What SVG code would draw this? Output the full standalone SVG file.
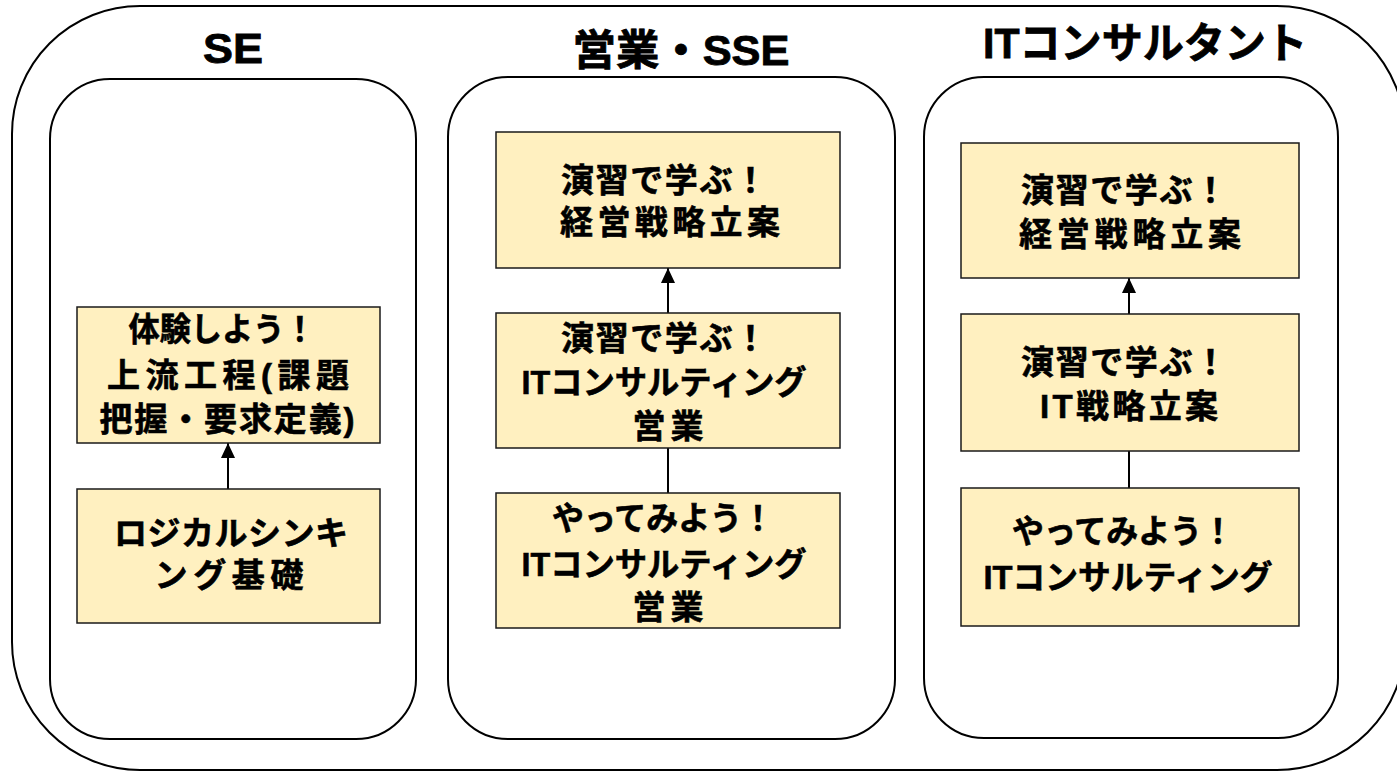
<svg xmlns="http://www.w3.org/2000/svg" width="1397" height="772" viewBox="0 0 1397 772">
<style>
.outer{fill:#fff;stroke:#000;stroke-width:2}
.panel{fill:#fff;stroke:#000;stroke-width:2}
.box{fill:#FFF0C0;stroke:#1a1a1a;stroke-width:1.5}
.title{font-family:"Liberation Sans","Noto Sans CJK JP",sans-serif;font-weight:bold;font-size:42px;fill:#000;stroke:#000;stroke-width:0.8;text-anchor:middle}
.t{font-family:"Liberation Sans","Noto Sans CJK JP",sans-serif;font-weight:bold;font-size:33px;fill:#000;stroke:#000;stroke-width:0.6;text-anchor:middle}
.conn{stroke:#000;stroke-width:2;fill:none}
</style>
<defs>
<marker id="ah" markerWidth="14" markerHeight="15" refX="7" refY="0" orient="0" markerUnits="userSpaceOnUse" viewBox="0 0 14 15">
<path d="M0,15 L7,0 L14,15 Z" fill="#000"/>
</marker>
</defs>
<rect class="outer" x="12" y="6" width="1393" height="764" rx="128" ry="128"/>

<g id="panel-se">
<rect class="panel" x="50" y="79" width="366" height="660" rx="60" ry="60"/>
<text class="title" x="233" y="63" textLength="60" lengthAdjust="spacingAndGlyphs">SE</text>
</g>
<g id="panel-sales">
<rect class="panel" x="448" y="77" width="447" height="662" rx="60" ry="60"/>
<text class="title" x="681" y="65" textLength="217" lengthAdjust="spacingAndGlyphs">営業・SSE</text>
</g>
<g id="panel-itc">
<rect class="panel" x="924" y="77" width="414" height="661" rx="60" ry="60"/>
<text class="title" x="1145" y="58" textLength="324" lengthAdjust="spacingAndGlyphs">ITコンサルタント</text>
</g>

<g id="connectors">
<line class="conn" x1="228" y1="489" x2="228" y2="443" marker-end="url(#ah)"/>
<line class="conn" x1="668" y1="313" x2="668" y2="268" marker-end="url(#ah)"/>
<line class="conn" x1="668" y1="493" x2="668" y2="448"/>
<line class="conn" x1="1129" y1="314" x2="1129" y2="278" marker-end="url(#ah)"/>
<line class="conn" x1="1129" y1="488" x2="1129" y2="451"/>
</g>

<g id="se-upstream">
<rect class="box" x="77" y="307" width="303" height="136"/>
<text class="t" x="222" y="341" textLength="187" lengthAdjust="spacingAndGlyphs">体験しよう！</text>
<text class="t" x="228" y="387" textLength="242">上流工程(課題</text>
<text class="t" x="227" y="431" textLength="255">把握・要求定義)</text>
</g>
<g id="se-logical">
<rect class="box" x="77" y="489" width="303" height="134"/>
<text class="t" x="231" y="545" textLength="234">ロジカルシンキ</text>
<text class="t" x="229" y="587" textLength="149">ング基礎</text>
</g>

<g id="sales-strategy">
<rect class="box" x="496" y="132" width="344" height="136"/>
<text class="t" x="664" y="192" textLength="206">演習で学ぶ！</text>
<text class="t" x="670" y="234" textLength="220">経営戦略立案</text>
</g>
<g id="sales-consulting">
<rect class="box" x="496" y="313" width="344" height="135"/>
<text class="t" x="664" y="350" textLength="206">演習で学ぶ！</text>
<text class="t" x="664" y="394" textLength="285" lengthAdjust="spacingAndGlyphs">ITコンサルティング</text>
<text class="t" x="668" y="438" textLength="71">営業</text>
</g>
<g id="sales-try">
<rect class="box" x="496" y="493" width="344" height="135"/>
<text class="t" x="663" y="530" textLength="222" lengthAdjust="spacingAndGlyphs">やってみよう！</text>
<text class="t" x="664" y="576" textLength="285" lengthAdjust="spacingAndGlyphs">ITコンサルティング</text>
<text class="t" x="668" y="619" textLength="71">営業</text>
</g>

<g id="itc-strategy">
<rect class="box" x="961" y="143" width="338" height="135"/>
<text class="t" x="1124" y="202" textLength="206">演習で学ぶ！</text>
<text class="t" x="1130" y="246" textLength="222">経営戦略立案</text>
</g>
<g id="itc-itstrategy">
<rect class="box" x="961" y="314" width="338" height="137"/>
<text class="t" x="1124" y="374" textLength="206">演習で学ぶ！</text>
<text class="t" x="1129" y="418" textLength="178">IT戦略立案</text>
</g>
<g id="itc-try">
<rect class="box" x="961" y="488" width="338" height="138"/>
<text class="t" x="1123" y="543" textLength="222" lengthAdjust="spacingAndGlyphs">やってみよう！</text>
<text class="t" x="1128" y="589" textLength="289" lengthAdjust="spacingAndGlyphs">ITコンサルティング</text>
</g>
</svg>
